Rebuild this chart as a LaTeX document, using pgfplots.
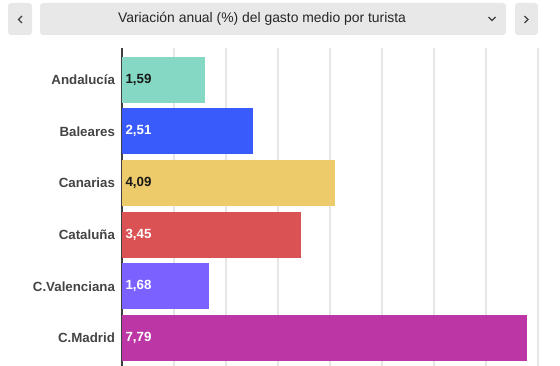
\documentclass[border=0pt]{standalone}
\usepackage{fontspec}
\setmainfont{Liberation Sans}
\usepackage{pgfplots}
\pgfplotsset{compat=1.18}
\definecolor{cAnd}{HTML}{84D8C4}
\definecolor{cBal}{HTML}{3A5BFB}
\definecolor{cCan}{HTML}{EDCA6A}
\definecolor{cCat}{HTML}{DA5253}
\definecolor{cVal}{HTML}{7B61FF}
\definecolor{cMad}{HTML}{BC37A5}
\definecolor{lab}{HTML}{444444}
\definecolor{btn}{HTML}{E8E8E8}
\definecolor{gridc}{HTML}{E6E6E6}
\begin{document}
\begin{tikzpicture}
\useasboundingbox (0,0) rectangle (560bp,366bp);
\begin{axis}[
  at={(122bp,0bp)}, anchor=south west,
  scale only axis, width=416bp, height=318bp,
  xmin=0, xmax=8, ymin=-0.61, ymax=5.54,
  y dir=reverse,
  axis x line*=bottom, x axis line style={draw=none},
  axis y line*=left, y axis line style={draw=black!75, line width=1.3bp, -},
  xtick={1,...,8}, xticklabels={},
  xmajorgrids, grid style={draw=gridc, line width=1.2bp},
  ytick={0,...,5},
  yticklabels={Andaluc\'ia, Baleares, Canarias, Catalu\~na, C.Valenciana, C.Madrid},
  yticklabel style={font=\fontsize{13.3bp}{15bp}\selectfont\bfseries, text=lab, xshift=-3.5bp},
  major tick length=0pt,
  clip=false,
]
\addplot[xbar, bar shift=0pt, bar width=0.89, fill=cAnd, draw=none] coordinates {(1.59,0)};
\addplot[xbar, bar shift=0pt, bar width=0.89, fill=cBal, draw=none] coordinates {(2.51,1)};
\addplot[xbar, bar shift=0pt, bar width=0.89, fill=cCan, draw=none] coordinates {(4.09,2)};
\addplot[xbar, bar shift=0pt, bar width=0.89, fill=cCat, draw=none] coordinates {(3.45,3)};
\addplot[xbar, bar shift=0pt, bar width=0.89, fill=cVal, draw=none] coordinates {(1.68,4)};
\addplot[xbar, bar shift=0pt, bar width=0.89, fill=cMad, draw=none] coordinates {(7.79,5)};
\addplot[draw=none, mark=none, point meta=explicit symbolic, nodes near coords,
  every node near coord/.append style={anchor=west, text=black!90, font=\fontsize{13.3bp}{15bp}\selectfont\bfseries}]
  table[meta=lab] {
x y lab
0 0 1,59
0 2 4,09
};
\addplot[draw=none, mark=none, point meta=explicit symbolic, nodes near coords,
  every node near coord/.append style={anchor=west, text=white, font=\fontsize{13.3bp}{15bp}\selectfont\bfseries}]
  table[meta=lab] {
x y lab
0 1 2,51
0 3 3,45
0 4 1,68
0 5 7,79
};
\end{axis}
% header controls
\fill[btn, rounded corners=3bp] (8bp,331bp) rectangle (32bp,363bp);
\fill[btn, rounded corners=3bp] (40bp,331bp) rectangle (506bp,363bp);
\fill[btn, rounded corners=3bp] (515bp,331bp) rectangle (538bp,363bp);
\draw[black!75, line width=1.2bp] (22bp,350bp) -- (18.5bp,346.5bp) -- (22bp,343bp);
\draw[black!75, line width=1.2bp] (524.5bp,350bp) -- (528bp,346.5bp) -- (524.5bp,343bp);
\draw[black!75, line width=1.2bp] (488.5bp,349bp) -- (492bp,345.5bp) -- (495.5bp,349bp);
\node[text=black!85, font=\fontsize{13.9bp}{16bp}\selectfont] at (262bp,347bp) {Variación anual (\%) del gasto medio por turista};
\end{tikzpicture}
\end{document}
